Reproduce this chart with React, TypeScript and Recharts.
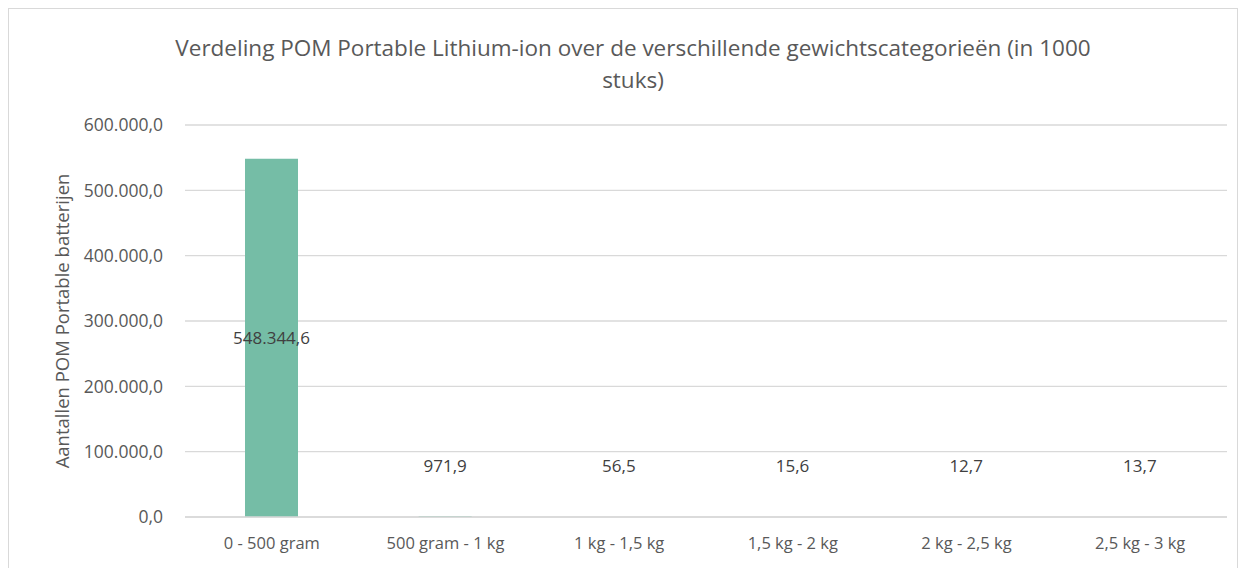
import { BarChart, Bar, XAxis, YAxis, CartesianGrid, LabelList } from 'recharts';

const categories = ['0 - 500 gram', '500 gram - 1 kg', '1 kg - 1,5 kg', '1,5 kg - 2 kg', '2 kg - 2,5 kg', '2,5 kg - 3 kg'];
const aantallen = [548344.6, 971.9, 56.5, 15.6, 12.7, 13.7];
const yTicks = [0, 100000, 200000, 300000, 400000, 500000, 600000];

const data = categories.map((c, i) => ({ cat: c, value: aantallen[i] }));

const FONT = '"Open Sans", Lato, sans-serif';
const GREY = '#595959';

// Dutch number format: 548.344,6
function nl(v: number) {
  const [int, dec] = v.toFixed(1).split('.');
  return int.replace(/\B(?=(\d{3})+(?!\d))/g, '.') + ',' + dec;
}

function ValueLabel(props: any) {
  const { x, y, width, height, value } = props;
  const cx = x + width / 2;
  // tiny bars: Excel puts the label up above the base
  const cy = height > 60 ? y + height / 2 : y + height - 52;
  return (
    <text x={cx} y={cy} textAnchor="middle" dominantBaseline="central" fill="#404040" fontSize={17} fontFamily={FONT}>
      {nl(value)}
    </text>
  );
}

function YLabel(props: any) {
  const { viewBox } = props;
  const cx = 52;
  const cy = viewBox.y + viewBox.height / 2;
  return (
    <text x={cx} y={cy} transform={`rotate(-90, ${cx}, ${cy})`} textAnchor="middle" dominantBaseline="central" fill={GREY} fontSize={18.5} fontFamily={FONT}>
      Aantallen POM Portable batterijen
    </text>
  );
}

export default function App() {
  return (
    <div style={{ position: 'relative', width: 1228, height: 575, border: '1px solid #d9d9d9', background: '#fff' }}>
      <div style={{ position: 'absolute', top: 23, left: 10, width: 1228, textAlign: 'center', fontFamily: FONT, fontSize: 22.5, color: GREY, lineHeight: '32px' }}>
        Verdeling POM Portable Lithium-ion over de verschillende gewichtscategorieën (in 1000
        <br />
        stuks)
      </div>
      <BarChart width={1228} height={575} data={data} margin={{ top: 116, right: 10, bottom: 37, left: 76 }}>
        <CartesianGrid vertical={false} stroke="#d9d9d9" strokeWidth={1.3} />
        <XAxis
          dataKey="cat"
          axisLine={{ stroke: '#d9d9d9', strokeWidth: 1.3 }}
          tickLine={false}
          tickSize={0}
          tickMargin={20}
          tick={{ fill: GREY, fontSize: 16.5, fontFamily: FONT }}
          interval={0}
        />
        <YAxis
          width={100}
          domain={[0, 600000]}
          ticks={yTicks}
          axisLine={false}
          tickLine={false}
          tickSize={0}
          tickMargin={22}
          tickFormatter={nl}
          tick={{ fill: GREY, fontSize: 17.5, fontFamily: FONT }}
          label={<YLabel />}
        />
        <Bar dataKey="value" fill="#75bda6" barSize={53} isAnimationActive={false}>
          <LabelList dataKey="value" content={<ValueLabel />} />
        </Bar>
      </BarChart>
    </div>
  );
}
